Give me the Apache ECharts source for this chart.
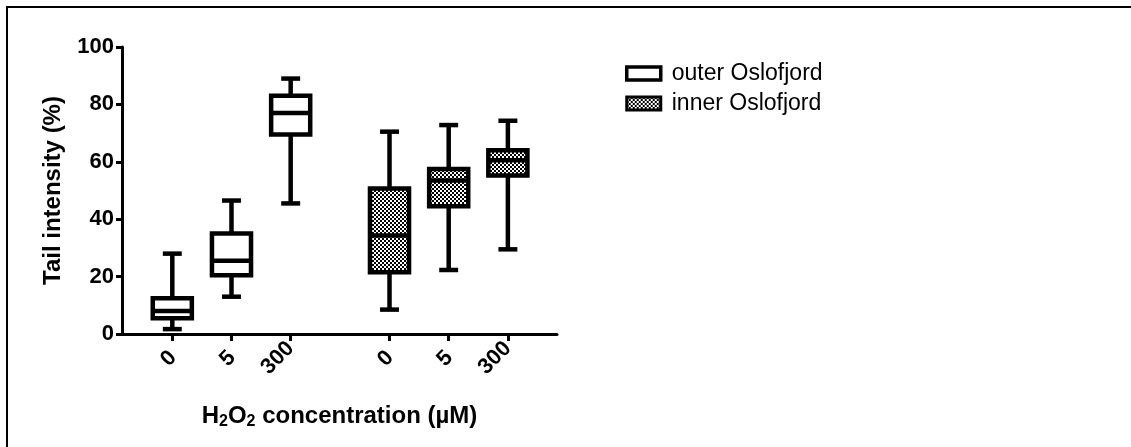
<!DOCTYPE html>
<html>
<head>
<meta charset="utf-8">
<script src="https://cdn.jsdelivr.net/npm/echarts@6/dist/echarts.min.js"></script>
<style>
  html, body { margin: 0; padding: 0; background: #fff; }
  #wrap { position: relative; width: 1131px; height: 447px; overflow: hidden; }
  #frame { position: absolute; left: 6px; top: 6px; width: 1200px; height: 500px; border-top: 2px solid #000; border-left: 2px solid #000; }
  #chart { position: absolute; left: 0; top: 0; width: 1131px; height: 447px; }
</style>
</head>
<body>
<div id="wrap"><div id="frame"></div><div id="chart"></div></div>
<script>
// ---- data ----
const categories = ['0', '5', '300'];
const seriesNames = ['outer Oslofjord', 'inner Oslofjord'];
const outerMin    = [1.7, 13.0, 45.5];
const outerQ1     = [5.5, 20.5, 69.5];
const outerMedian = [8.0, 25.5, 77.0];
const outerQ3     = [12.5, 35.0, 83.0];
const outerMax    = [28.0, 46.5, 89.0];
const innerMin    = [8.5, 22.3, 29.5];
const innerQ1     = [21.5, 44.5, 55.2];
const innerMedian = [34.3, 53.5, 60.5];
const innerQ3     = [50.7, 57.5, 64.0];
const innerMax    = [70.5, 72.8, 74.3];
const yTicks = [0, 20, 40, 60, 80, 100];

// ---- layout ----
const groupGap = 0.67;
function pos(g, j) { return 1 + j + g * (categories.length + groupGap); }
const tickPos = [];
const tickLabel = {};
[0, 1].forEach(g => categories.forEach((c, j) => { const p = +pos(g, j).toFixed(3); tickPos.push(p); tickLabel[p] = c; }));

function build(g, mins, q1s, meds, q3s, maxs) {
  return categories.map((c, j) => [pos(g, j), mins[j], q1s[j], meds[j], q3s[j], maxs[j]]);
}

// checkerboard pattern
const pc = document.createElement('canvas');
pc.width = 4; pc.height = 4;
const pctx = pc.getContext('2d');
pctx.fillStyle = '#fff'; pctx.fillRect(0, 0, 4, 4);
pctx.fillStyle = '#000'; pctx.fillRect(0, 0, 2, 2); pctx.fillRect(2, 2, 2, 2);
const checker = { image: pc, repeat: 'repeat' };

const LW = 4.5;
function makeRender(fill) {
  return function (params, api) {
    const x = api.value(0);
    const pMin = api.coord([x, api.value(1)]);
    const pQ1 = api.coord([x, api.value(2)]);
    const pMed = api.coord([x, api.value(3)]);
    const pQ3 = api.coord([x, api.value(4)]);
    const pMax = api.coord([x, api.value(5)]);
    const halfBox = api.size([0.66, 0])[0] / 2;
    const halfCap = api.size([0.32, 0])[0] / 2;
    const cx = pMed[0];
    const ls = { stroke: '#000', lineWidth: LW, lineCap: 'butt' };
    return {
      type: 'group',
      children: [
        { type: 'line', shape: { x1: cx, y1: pQ3[1], x2: cx, y2: pMax[1] }, style: ls },
        { type: 'line', shape: { x1: cx, y1: pQ1[1], x2: cx, y2: pMin[1] }, style: ls },
        { type: 'line', shape: { x1: cx - halfCap, y1: pMax[1], x2: cx + halfCap, y2: pMax[1] }, style: ls },
        { type: 'line', shape: { x1: cx - halfCap, y1: pMin[1], x2: cx + halfCap, y2: pMin[1] }, style: ls },
        { type: 'rect', shape: { x: cx - halfBox, y: pQ3[1], width: 2 * halfBox, height: pQ1[1] - pQ3[1] },
          style: { fill: fill, stroke: '#000', lineWidth: LW } },
        { type: 'line', shape: { x1: cx - halfBox, y1: pMed[1], x2: cx + halfBox, y2: pMed[1] }, style: ls }
      ]
    };
  };
}

const font = '"Liberation Sans", Arial, sans-serif';
const lblBase = { fontFamily: font, fontWeight: 'bold', fontSize: 22, color: '#000' };
const chart = echarts.init(document.getElementById('chart'), null, { renderer: 'canvas' });
chart.setOption({
  animation: false,
  backgroundColor: 'transparent',
  grid: { left: 122, right: 574, top: 47, bottom: 113, containLabel: false },
  legend: {
    orient: 'vertical', left: 620, top: 57,
    itemWidth: 34, itemHeight: 13, itemGap: 7,
    textStyle: { fontFamily: font, fontSize: 23, color: '#000', padding: [0, 0, 0, 6] },
    data: [
      { name: seriesNames[0], icon: 'rect', itemStyle: { color: '#fff', borderColor: '#000', borderWidth: 3.5 } },
      { name: seriesNames[1], icon: 'rect', itemStyle: { color: checker, borderColor: '#000', borderWidth: 3 } }
    ]
  },
  xAxis: {
    type: 'value', min: 0.15, max: 7.5,
    name: '{n|H}{s|2}{n|O}{s|2}{n| concentration (µM)}',
    nameLocation: 'middle', nameGap: 68,
    nameTextStyle: {
      rich: {
        n: { fontFamily: font, fontWeight: 'bold', fontSize: 24, color: '#000' },
        s: { fontFamily: font, fontWeight: 'bold', fontSize: 16, color: '#000', verticalAlign: 'bottom', padding: [12, 0, 0, 0] }
      }
    },
    axisLine: { show: true, lineStyle: { color: '#000', width: 3 } },
    axisTick: { show: true, customValues: tickPos, length: 7, lineStyle: { color: '#000', width: 3 } },
    axisLabel: {
      customValues: tickPos, rotate: 45, margin: 11,
      fontFamily: font, fontWeight: 'bold', fontSize: 22, color: '#000',
      formatter: v => {
        const t = tickLabel[+(+v).toFixed(3)] ?? '';
        return t.length < 3 ? '{sh|' + t + '}' : '{lg|' + t + '}';
      },
      rich: {
        sh: Object.assign({ padding: [14, 6, 0, 0] }, lblBase),
        lg: Object.assign({}, lblBase)
      }
    },
    splitLine: { show: false }
  },
  yAxis: {
    type: 'value', min: 0, max: 100, interval: 20,
    name: 'Tail intensity (%)', nameLocation: 'middle', nameGap: 57,
    nameTextStyle: { fontFamily: font, fontWeight: 'bold', fontSize: 24, color: '#000' },
    axisLine: { show: true, lineStyle: { color: '#000', width: 3 } },
    axisTick: { show: true, length: 6, lineStyle: { color: '#000', width: 3 } },
    axisLabel: { fontFamily: font, fontWeight: 'bold', fontSize: 22, color: '#000', margin: 8,
      formatter: v => yTicks.includes(v) ? String(v) : '' },
    splitLine: { show: false }
  },
  series: [
    { type: 'custom', name: seriesNames[0], renderItem: makeRender('#fff'),
      itemStyle: { color: '#fff', borderColor: '#000' },
      encode: { x: 0, y: [1, 2, 3, 4, 5] },
      data: build(0, outerMin, outerQ1, outerMedian, outerQ3, outerMax) },
    { type: 'custom', name: seriesNames[1], renderItem: makeRender(checker),
      itemStyle: { color: '#888', borderColor: '#000' },
      encode: { x: 0, y: [1, 2, 3, 4, 5] },
      data: build(1, innerMin, innerQ1, innerMedian, innerQ3, innerMax) }
  ]
});
</script>
</body>
</html>
